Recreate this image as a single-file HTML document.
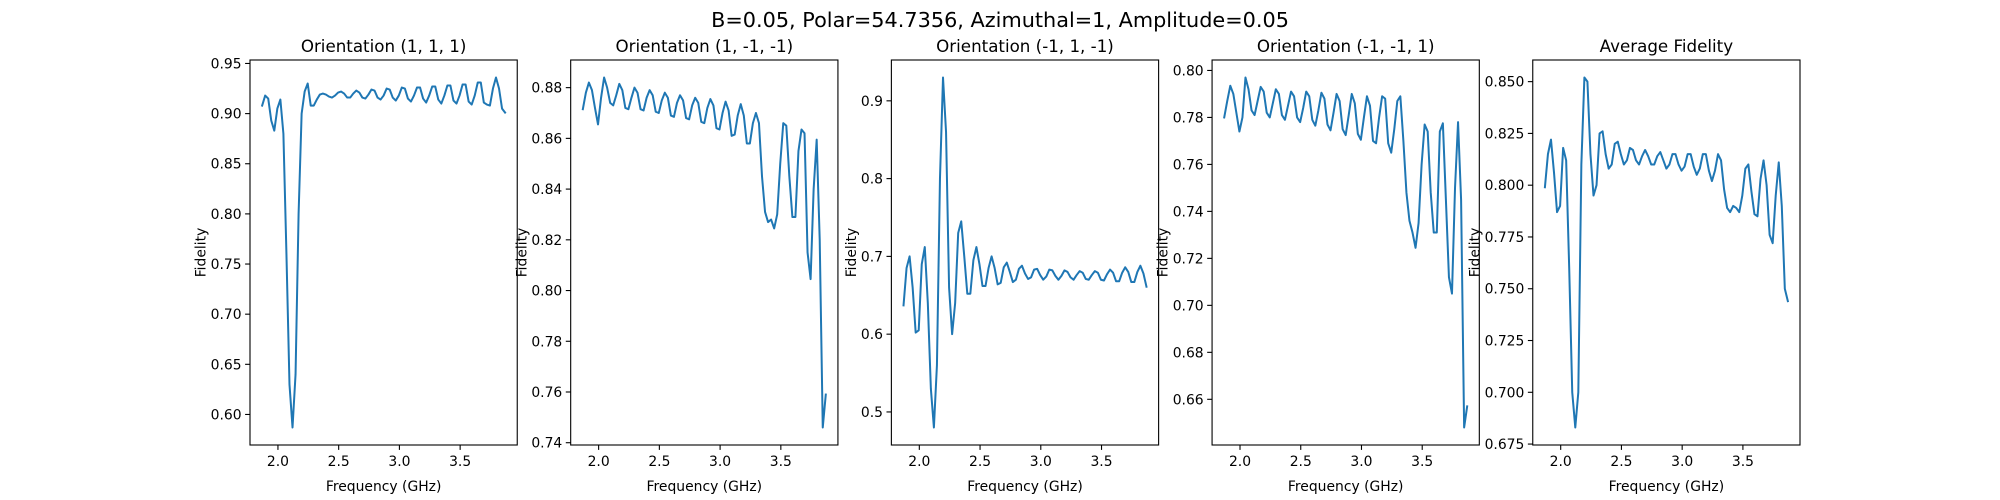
<!DOCTYPE html>
<html><head><meta charset="utf-8">
<style>
html,body{margin:0;padding:0;background:#fff;}
svg{display:block;font-family:"DejaVu Sans","Liberation Sans",sans-serif;}
</style></head>
<body>
<svg id="fig" width="2000" height="500" viewBox="0 0 2000 500" xmlns="http://www.w3.org/2000/svg">
<rect width="2000" height="500" fill="#fff"/>
<text x="1000" y="27" text-anchor="middle" font-size="20.8" fill="#000">B=0.05, Polar=54.7356, Azimuthal=1, Amplitude=0.05</text>
</svg>
<script>
const freq = [1.870,1.895,1.920,1.945,1.970,1.995,2.020,2.045,2.070,2.095,2.120,2.145,2.170,2.195,2.220,2.245,2.270,2.295,2.320,2.345,2.370,2.395,2.420,2.445,2.470,2.495,2.520,2.545,2.570,2.595,2.620,2.645,2.670,2.695,2.720,2.745,2.770,2.795,2.820,2.845,2.870,2.895,2.920,2.945,2.970,2.995,3.020,3.045,3.070,3.095,3.120,3.145,3.170,3.195,3.220,3.245,3.270,3.295,3.320,3.345,3.370,3.395,3.420,3.445,3.470,3.495,3.520,3.545,3.570,3.595,3.620,3.645,3.670,3.695,3.720,3.745,3.770,3.795,3.820,3.845,3.870];
const fid111 = [0.908,0.918,0.915,0.893,0.883,0.905,0.914,0.88,0.76,0.63,0.587,0.64,0.80,0.90,0.922,0.93,0.908,0.908,0.914,0.919,0.92,0.919,0.917,0.916,0.918,0.921,0.922,0.920,0.916,0.916,0.920,0.923,0.921,0.916,0.915,0.919,0.924,0.923,0.916,0.914,0.918,0.925,0.924,0.916,0.913,0.918,0.926,0.925,0.915,0.912,0.918,0.926,0.926,0.915,0.911,0.918,0.927,0.927,0.914,0.910,0.918,0.928,0.928,0.913,0.910,0.918,0.929,0.929,0.912,0.909,0.918,0.931,0.931,0.911,0.909,0.908,0.925,0.936,0.925,0.905,0.901];
const fid1mm = [0.8715,0.878,0.882,0.879,0.872,0.8655,0.876,0.884,0.880,0.874,0.873,0.877,0.8815,0.879,0.872,0.8715,0.876,0.880,0.878,0.8715,0.871,0.876,0.879,0.877,0.8705,0.870,0.875,0.878,0.876,0.869,0.8685,0.874,0.877,0.875,0.868,0.8675,0.873,0.876,0.874,0.8665,0.866,0.872,0.8755,0.873,0.864,0.8635,0.870,0.8745,0.871,0.861,0.8615,0.869,0.8735,0.869,0.858,0.858,0.866,0.870,0.866,0.845,0.831,0.827,0.828,0.8245,0.830,0.850,0.866,0.865,0.845,0.829,0.829,0.855,0.8635,0.862,0.815,0.8045,0.840,0.8595,0.820,0.746,0.759];
const fidm1m = [0.637,0.685,0.700,0.660,0.602,0.605,0.690,0.712,0.640,0.530,0.480,0.560,0.800,0.930,0.860,0.660,0.600,0.640,0.730,0.745,0.700,0.652,0.652,0.695,0.712,0.690,0.662,0.662,0.685,0.700,0.685,0.664,0.666,0.686,0.692,0.680,0.667,0.670,0.684,0.688,0.678,0.671,0.673,0.683,0.684,0.676,0.670,0.674,0.683,0.682,0.675,0.670,0.675,0.682,0.680,0.673,0.670,0.676,0.681,0.679,0.671,0.670,0.676,0.681,0.679,0.670,0.669,0.677,0.683,0.679,0.668,0.668,0.679,0.686,0.680,0.667,0.667,0.680,0.688,0.678,0.661];
const fidmm1 = [0.780,0.787,0.7935,0.790,0.782,0.774,0.780,0.797,0.792,0.783,0.781,0.787,0.793,0.791,0.782,0.780,0.786,0.792,0.790,0.781,0.779,0.785,0.791,0.789,0.780,0.778,0.784,0.791,0.789,0.779,0.7765,0.783,0.7905,0.788,0.777,0.7745,0.782,0.790,0.787,0.775,0.7725,0.781,0.790,0.786,0.773,0.7705,0.780,0.789,0.785,0.770,0.769,0.780,0.789,0.788,0.769,0.765,0.775,0.787,0.789,0.770,0.748,0.736,0.731,0.7245,0.735,0.760,0.777,0.774,0.748,0.731,0.731,0.774,0.7775,0.745,0.712,0.705,0.750,0.778,0.745,0.648,0.657];
const fidAvg = [0.799,0.815,0.822,0.806,0.787,0.790,0.818,0.812,0.760,0.700,0.683,0.700,0.810,0.852,0.850,0.815,0.795,0.800,0.825,0.826,0.815,0.808,0.810,0.820,0.821,0.815,0.810,0.812,0.818,0.817,0.812,0.810,0.814,0.817,0.814,0.810,0.810,0.814,0.816,0.812,0.808,0.810,0.815,0.815,0.810,0.807,0.809,0.815,0.815,0.809,0.805,0.808,0.815,0.815,0.807,0.802,0.807,0.815,0.812,0.798,0.789,0.787,0.790,0.789,0.787,0.795,0.808,0.810,0.797,0.786,0.785,0.803,0.812,0.800,0.776,0.772,0.795,0.811,0.790,0.750,0.744];
const titles = ["Orientation (1, 1, 1)","Orientation (1, -1, -1)","Orientation (-1, 1, -1)","Orientation (-1, -1, 1)","Average Fidelity"];
const xTicks = [2.0,2.5,3.0,3.5];
const xTickLabels = ["2.0","2.5","3.0","3.5"];
const yTicks1 = [0.60,0.65,0.70,0.75,0.80,0.85,0.90,0.95];
const yTicks2 = [0.74,0.76,0.78,0.80,0.82,0.84,0.86,0.88];
const yTicks3 = [0.5,0.6,0.7,0.8,0.9];
const yTicks4 = [0.66,0.68,0.70,0.72,0.74,0.76,0.78,0.80];
const yTicks5 = [0.675,0.700,0.725,0.750,0.775,0.800,0.825,0.850];
const yDecimals = [2,2,1,2,3];

const series = [fid111, fid1mm, fidm1m, fidmm1, fidAvg];
const yTickSets = [yTicks1, yTicks2, yTicks3, yTicks4, yTicks5];
const NS = "http://www.w3.org/2000/svg";
const svgRoot = document.getElementById('fig');
function mk(tag, attrs, parent){const e=document.createElementNS(NS,tag);for(const k in attrs)e.setAttribute(k,attrs[k]);(parent||svgRoot).appendChild(e);return e;}

const axW = 267.24, axGap = 53.45, axTop = 60, axBottom = 445;
for (let p = 0; p < 5; p++) {
  const left = 250 + p * (axW + axGap);
  const vals = series[p];
  const g = mk('g', {});
  
  
  const fmin = Math.min(...freq), fmax = Math.max(...freq);
  const xr = fmax - fmin, x0 = fmin - 0.05 * xr, x1 = fmax + 0.05 * xr;
  const vmin = Math.min(...vals), vmax = Math.max(...vals);
  const yr = vmax - vmin, y0 = vmin - 0.05 * yr, y1 = vmax + 0.05 * yr;
  const X = f => left + (f - x0) / (x1 - x0) * axW;
  const Y = v => axBottom - (v - y0) / (y1 - y0) * (axBottom - axTop);

  let d = '';
  for (let i = 0; i < freq.length; i++) d += (i ? 'L' : 'M') + X(freq[i]).toFixed(2) + ' ' + Y(vals[i]).toFixed(2);
  const path = mk('path', {d: d, fill: 'none', stroke: '#1f77b4', 'stroke-width': 2, 'stroke-linejoin': 'round', 'stroke-linecap': 'square'}, g);
  
  

  const frame = mk('rect', {x: left, y: axTop, width: axW, height: axBottom - axTop, fill: 'none', stroke: '#000', 'stroke-width': 1.1}, g);
  
  

  for (let k = 0; k < xTicks.length; k++) {
    const x = X(xTicks[k]);
    mk('line', {x1: x, x2: x, y1: axBottom, y2: axBottom + 4.9, stroke: '#000', 'stroke-width': 1.1}, g);
    const t = mk('text', {x: x, y: axBottom + 21, 'text-anchor': 'middle', 'font-size': 13.9, fill: '#000'}, g);
    t.textContent = xTickLabels[k];
    
    
  }
  let maxW = 0;
  const yt = yTickSets[p];
  for (let k = 0; k < yt.length; k++) {
    const y = Y(yt[k]);
    if (y < axTop - 0.5 || y > axBottom + 0.5) continue;
    mk('line', {x1: left - 4.9, x2: left, y1: y, y2: y, stroke: '#000', 'stroke-width': 1.1}, g);
    const t = mk('text', {x: left - 8.4, y: y + 5, 'text-anchor': 'end', 'font-size': 13.9, fill: '#000'}, g);
    t.textContent = yt[k].toFixed(yDecimals[p]);
    
    
    let w = 0;
    try { w = t.getComputedTextLength(); } catch (e) { w = t.textContent.length * 8.8; }
    maxW = Math.max(maxW, w);
  }
  const xl = mk('text', {x: left + axW / 2, y: 491, 'text-anchor': 'middle', 'font-size': 13.9, fill: '#000'}, g);
  xl.textContent = 'Frequency (GHz)';
  
  
  const lx = left - 8.4 - maxW - 5;
  const cy = (axTop + axBottom) / 2;
  const yl = mk('text', {x: lx, y: cy, 'text-anchor': 'middle', 'font-size': 13.9, fill: '#000', transform: 'rotate(-90 ' + lx + ' ' + cy + ')'}, g);
  yl.textContent = 'Fidelity';
  
  
  const tt = mk('text', {x: left + axW / 2, y: 52, 'text-anchor': 'middle', 'font-size': 16.7, fill: '#000'}, g);
  tt.textContent = titles[p];
  
  
}
</script>
</body></html>
